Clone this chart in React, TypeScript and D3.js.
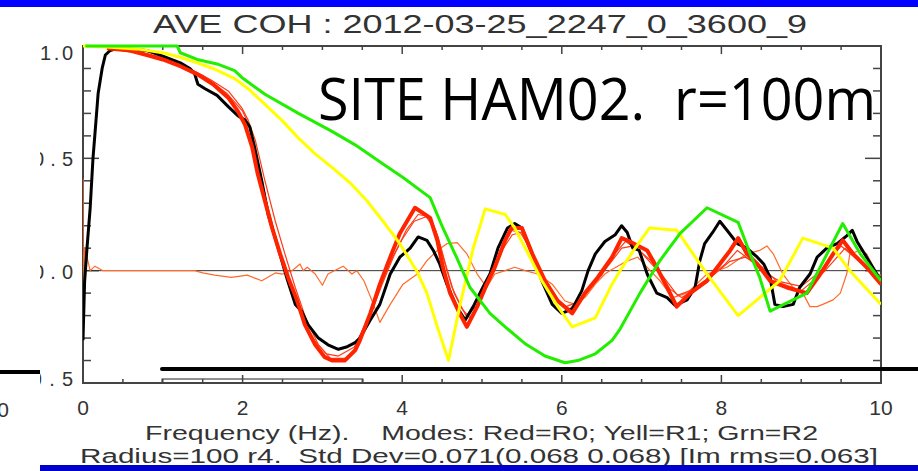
import React from "react";
import * as d3 from "d3";

type P = [number, number];

const xTicksMajor = [0, 2, 4, 6, 8, 10];
const yTickLabels = ["-0.5", "0.0", "0.5", "1.0"];
const yTickValues = [-0.5, 0.0, 0.5, 1.0];

const titleText = "AVE COH : 2012-03-25_2247_0_3600_9";
const siteText = "SITE HAM02.  r=100m";
const xLabelLine1 = "Frequency (Hz).    Modes: Red=R0; Yell=R1; Grn=R2";
const xLabelLine2 = "Radius=100 r4.  Std Dev=0.071(0.068 0.068) [Im rms=0.063]";

const blackData: P[] = [[0,-0.31],[0.02,-0.05],[0.05,0.10],[0.09,0.28],[0.125,0.50],[0.15,0.61],[0.19,0.79],[0.24,0.90],[0.28,0.96],[0.34,0.98],[0.43,0.99],[0.8,0.98],[1.0,0.955],[1.22,0.925],[1.34,0.90],[1.4,0.875],[1.44,0.83],[1.53,0.81],[1.68,0.78],[1.82,0.73],[1.94,0.69],[2.03,0.67],[2.09,0.64],[2.15,0.55],[2.24,0.40],[2.32,0.25],[2.43,0.12],[2.56,-0.04],[2.66,-0.15],[2.74,-0.18],[2.82,-0.24],[2.95,-0.30],[3.07,-0.33],[3.2,-0.35],[3.3,-0.34],[3.41,-0.32],[3.47,-0.30],[3.6,-0.22],[3.72,-0.15],[3.85,-0.015],[3.97,0.06],[4.1,0.10],[4.2,0.15],[4.31,0.135],[4.39,0.09],[4.47,0.03],[4.56,-0.06],[4.68,-0.16],[4.79,-0.22],[4.89,-0.16],[5.01,-0.075],[5.1,-0.015],[5.2,0.10],[5.32,0.19],[5.41,0.21],[5.5,0.19],[5.63,0.075],[5.75,-0.045],[5.88,-0.15],[6.0,-0.19],[6.13,-0.17],[6.25,-0.09],[6.33,0.0],[6.42,0.075],[6.54,0.13],[6.67,0.16],[6.75,0.20],[6.82,0.17],[6.89,0.10],[6.97,0.09],[7.07,-0.015],[7.19,-0.10],[7.32,-0.12],[7.42,-0.155],[7.57,-0.13],[7.67,-0.075],[7.73,0.045],[7.79,0.12],[7.89,0.17],[7.98,0.22],[8.07,0.18],[8.2,0.12],[8.32,0.10],[8.45,0.06],[8.53,0.03],[8.61,-0.03],[8.67,-0.15],[8.77,-0.16],[8.9,-0.15],[8.98,-0.075],[9.11,-0.015],[9.2,0.06],[9.32,0.10],[9.45,0.12],[9.57,0.155],[9.64,0.18],[9.7,0.13],[9.82,0.06],[10.0,-0.045]];

const redR0: P[] = [[0.3,0.99],[0.59,0.98],[0.8,0.96],[1.0,0.94],[1.22,0.91],[1.43,0.875],[1.63,0.83],[1.82,0.77],[1.94,0.71],[2.03,0.65],[2.12,0.55],[2.19,0.43],[2.28,0.31],[2.37,0.19],[2.47,0.075],[2.57,-0.03],[2.68,-0.13],[2.78,-0.24],[2.91,-0.33],[3.03,-0.385],[3.12,-0.40],[3.28,-0.40],[3.41,-0.355],[3.47,-0.31],[3.6,-0.19],[3.72,-0.06],[3.85,0.06],[3.97,0.165],[4.16,0.28],[4.35,0.235],[4.44,0.135],[4.51,0.015],[4.6,-0.10],[4.72,-0.19],[4.81,-0.25],[4.94,-0.16],[5.06,-0.06],[5.16,0.015],[5.29,0.135],[5.37,0.19],[5.5,0.19],[5.63,0.075],[5.79,-0.045],[5.95,-0.135],[6.13,-0.19],[6.29,-0.10],[6.45,-0.03],[6.63,0.06],[6.75,0.145],[6.85,0.13],[7.07,0.09],[7.19,0.015],[7.32,-0.075],[7.44,-0.16],[7.61,-0.10],[7.82,-0.045],[7.98,0.03],[8.11,0.09],[8.21,0.145],[8.32,0.075],[8.45,0.03],[8.61,-0.045],[8.82,-0.075],[9.07,-0.10],[9.24,-0.015],[9.4,0.075],[9.52,0.135],[9.65,0.075],[9.82,0.015],[10.0,-0.06]];

const redThinA: P[] = [[0.3,0.99],[0.8,0.965],[1.2,0.925],[1.6,0.85],[1.82,0.80],[1.99,0.725],[2.07,0.67],[2.16,0.58],[2.28,0.40],[2.41,0.22],[2.53,0.075],[2.66,-0.075],[2.8,-0.22],[2.95,-0.33],[3.1,-0.39],[3.3,-0.39],[3.45,-0.33],[3.6,-0.2],[3.75,-0.06],[3.9,0.07],[4.05,0.18],[4.2,0.25],[4.35,0.24],[4.45,0.15],[4.55,0.02],[4.65,-0.1],[4.8,-0.2],[4.95,-0.15],[5.1,-0.04],[5.25,0.1],[5.35,0.18],[5.5,0.17],[5.65,0.05],[5.8,-0.06],[5.95,-0.14],[6.1,-0.17],[6.3,-0.1],[6.5,-0.02],[6.65,0.07],[6.8,0.13],[7.0,0.08],[7.2,0.0],[7.35,-0.08],[7.5,-0.12],[7.7,-0.08],[7.9,-0.02],[8.1,0.04],[8.3,0.06],[8.5,0.02],[8.7,-0.05],[9.0,-0.09],[9.3,0.0],[9.55,0.1],[9.8,0.02],[10,-0.05]];

const redThinB: P[] = [[0.3,0.99],[1.0,0.95],[1.5,0.87],[1.8,0.79],[2.0,0.71],[2.1,0.63],[2.2,0.47],[2.32,0.28],[2.45,0.1],[2.6,-0.07],[2.75,-0.21],[2.9,-0.31],[3.05,-0.37],[3.2,-0.38],[3.4,-0.34],[3.55,-0.23],[3.7,-0.09],[3.85,0.04],[4.0,0.14],[4.15,0.22],[4.3,0.24],[4.42,0.18],[4.52,0.05],[4.62,-0.07],[4.75,-0.17],[4.85,-0.21],[5.0,-0.12],[5.12,-0.02],[5.25,0.09],[5.38,0.16],[5.48,0.17],[5.6,0.1],[5.75,-0.02],[5.9,-0.11],[6.05,-0.16],[6.2,-0.14],[6.4,-0.06],[6.6,0.03],[6.75,0.1],[6.9,0.11],[7.1,0.05],[7.3,-0.04],[7.45,-0.11],[7.6,-0.09],[7.85,-0.03],[8.05,0.03],[8.2,0.09],[8.35,0.05],[8.55,-0.01],[8.75,-0.05],[9.0,-0.07],[9.25,0.0],[9.5,0.11],[9.7,0.05],[10,-0.04]];

const yellowR1: P[] = [[0,1.0],[0.3,0.995],[0.71,0.985],[1.0,0.97],[1.22,0.95],[1.43,0.925],[1.63,0.90],[1.9,0.855],[2.07,0.81],[2.28,0.74],[2.49,0.67],[2.7,0.59],[2.91,0.52],[3.12,0.46],[3.35,0.39],[3.56,0.31],[3.76,0.22],[3.97,0.12],[4.18,0.0],[4.31,-0.10],[4.44,-0.25],[4.58,-0.40],[4.72,-0.16],[4.89,0.10],[5.04,0.275],[5.29,0.25],[5.41,0.19],[5.58,0.075],[5.75,-0.045],[5.95,-0.16],[6.13,-0.25],[6.42,-0.21],[6.63,-0.06],[6.73,0.0],[6.9,0.09],[7.1,0.19],[7.44,0.18],[7.82,-0.015],[8.21,-0.20],[8.48,-0.12],[8.73,-0.045],[9.02,0.145],[9.4,0.10],[9.61,0.0],[10.0,-0.15]];

const greenR2: P[] = [[0.03,1.0],[1.18,1.0],[1.22,0.97],[1.43,0.94],[1.68,0.92],[1.9,0.89],[1.99,0.86],[2.28,0.785],[2.7,0.70],[3.12,0.62],[3.41,0.56],[3.76,0.475],[4.01,0.415],[4.35,0.325],[4.51,0.19],[4.68,0.06],[4.85,-0.075],[5.1,-0.19],[5.29,-0.25],[5.54,-0.325],[5.79,-0.38],[6.04,-0.41],[6.2,-0.40],[6.42,-0.37],[6.63,-0.31],[6.73,-0.26],[6.98,-0.10],[7.23,0.045],[7.48,0.165],[7.82,0.28],[8.21,0.215],[8.36,0.075],[8.48,-0.03],[8.61,-0.18],[9.07,-0.10],[9.52,0.21],[9.74,0.075],[10.0,-0.045]];

const orangeIm: P[] = [[0,0.41],[0.005,-0.19],[0.02,0.1],[0.05,0.06],[0.09,0.0],[0.15,0.02],[0.2,0.01],[0.25,0.0],[1.4,0.0],[1.5,-0.01],[1.65,-0.02],[1.86,-0.03],[2.06,-0.02],[2.24,-0.045],[2.41,-0.01],[2.5,-0.015],[2.62,0.0],[2.72,0.03],[2.76,0.0],[2.81,0.015],[2.91,-0.015],[3.0,-0.065],[3.07,-0.015],[3.26,0.02],[3.37,-0.015],[3.43,0.0],[3.52,-0.045],[3.64,-0.15],[3.72,-0.23],[3.85,-0.15],[4.01,-0.06],[4.19,-0.015],[4.31,0.045],[4.44,0.09],[4.56,0.12],[4.69,0.125],[4.81,0.075],[4.94,-0.015],[5.06,-0.075],[5.16,-0.015],[5.29,0.0],[5.41,0.015],[5.54,0.0],[5.7,-0.015],[5.88,-0.06],[6.04,-0.135],[6.17,-0.15],[6.29,-0.12],[6.42,-0.06],[6.54,-0.015],[6.6,0.0],[6.8,0.04],[6.95,0.06],[7.07,0.015],[7.23,-0.045],[7.39,-0.12],[7.57,-0.10],[7.82,-0.015],[8.07,0.015],[8.32,0.075],[8.48,0.09],[8.57,0.11],[8.65,0.075],[8.77,-0.015],[8.9,-0.075],[9.02,-0.10],[9.11,-0.16],[9.2,-0.16],[9.27,-0.15],[9.4,-0.13],[9.49,-0.10],[9.57,-0.015],[9.61,0.075],[9.74,0.09],[9.82,0.075],[9.95,-0.015],[10,-0.02]];

const W = 918;
const H = 471;
const L = 83, R = 881, T = 46, B = 383;

export default function App() {
  const x = d3.scaleLinear().domain([0, 10]).range([L, R]);
  const y = d3.scaleLinear().domain([-0.5, 1.0]).range([B, T]);
  const line = d3.line<P>().x(d => x(d[0])).y(d => y(d[1]));

  const xMinor = d3.range(0, 10.01, 0.5);
  const yMinor = d3.range(-0.5, 1.001, 0.1);
  const axisCol = "#444";
  const txtCol = "#333";
  const mono = "'Liberation Sans', Arial, sans-serif";

  return (
    <div style={{ position: "absolute", left: 0, top: 0 }}>
      <svg width={W} height={H} style={{ display: "block", background: "#fff" }}>
        <defs>
          <clipPath id="ylab">
            <rect x={40} y={0} width={60} height={H} />
          </clipPath>
          <clipPath id="plot">
            <rect x={L} y={T - 2} width={R - L} height={B - T + 4} />
          </clipPath>
        </defs>

        {/* top blue band */}
        <rect x={0} y={0} width={W} height={7} fill="#0000ff" />

        {/* title */}
        <text x={153} y={33} fontFamily={mono} fontSize={25} fill={txtCol}
          textLength={654} lengthAdjust="spacingAndGlyphs">{titleText}</text>

        {/* overlay box below axis */}
        <rect x={162} y={379} width={201} height={4} fill="#fff" stroke="#222" strokeWidth={1} />

        {/* frame */}
        <rect x={L} y={T} width={R - L} height={B - T} fill="none" stroke={axisCol} strokeWidth={2} />

        {/* x ticks */}
        {xMinor.map((v, i) => {
          const major = Math.abs(v % 2) < 1e-6;
          const len = major ? 8 : 4;
          return (
            <g key={"xt" + i}>
              <line x1={x(v)} x2={x(v)} y1={B} y2={B - len} stroke={axisCol} strokeWidth={1.5} />
              <line x1={x(v)} x2={x(v)} y1={T} y2={T + len} stroke={axisCol} strokeWidth={1.5} />
            </g>
          );
        })}
        {/* y ticks */}
        {yMinor.map((v, i) => {
          const major = Math.abs(Math.round(v * 10) % 5) === 0;
          const len = major ? 16 : 8;
          return (
            <g key={"yt" + i}>
              <line x1={L} x2={L + len} y1={y(v)} y2={y(v)} stroke={axisCol} strokeWidth={1.5} />
              <line x1={R} x2={R - len} y1={y(v)} y2={y(v)} stroke={axisCol} strokeWidth={1.5} />
            </g>
          );
        })}

        {/* zero line */}
        <line x1={L} x2={R} y1={y(0)} y2={y(0)} stroke="#333" strokeWidth={1} />

        {/* curves */}
        <g clipPath="url(#plot)" fill="none" strokeLinejoin="round">
          <path d={line(orangeIm) || ""} stroke="#ff6a2a" strokeWidth={1.2} />
          <path d={line(redThinA) || ""} stroke="#ff3a1a" strokeWidth={1.2} />
          <path d={line(redThinB) || ""} stroke="#ff3a1a" strokeWidth={1.2} />
          <path d={line(blackData) || ""} stroke="#000" strokeWidth={3} />
          <path d={line(redR0) || ""} stroke="#ff2400" strokeWidth={4} />
          <path d={line(yellowR1) || ""} stroke="#ffff00" strokeWidth={3} />
          <path d={line(greenR2) || ""} stroke="#22ee00" strokeWidth={3} />
        </g>

        {/* y labels (left part hidden by the slide crop) */}
        <g clipPath="url(#ylab)">
          {yTickValues.map((v, i) => {
            const lab = yTickLabels[i];
            const narrowLead = lab.startsWith("1");
            const tl = lab.length === 4 ? 56 : narrowLead ? 33 : 40;
            return (
              <text key={"yl" + i} x={73 - tl} y={Math.min(Math.max(y(v) + 1, 53), 379)} dy="0.35em"
                fontFamily={mono} fontSize={20} fill={txtCol}
                textLength={tl} lengthAdjust="spacing">{lab}</text>
            );
          })}
        </g>

        {/* x labels */}
        {xTicksMajor.map((v) => (
          <text key={"xl" + v} x={x(v)} y={415} textAnchor="middle" fontFamily={mono} fontSize={21} fill={txtCol}>{String(v)}</text>
        ))}

        {/* axis titles */}
        <text x={145} y={440} fontFamily={mono} fontSize={20} fill={txtCol} textLength={673}
          lengthAdjust="spacingAndGlyphs" style={{ whiteSpace: "pre" }}>{xLabelLine1}</text>
        <text x={80} y={463} fontFamily={mono} fontSize={20} fill={txtCol} textLength={798}
          lengthAdjust="spacingAndGlyphs" style={{ whiteSpace: "pre" }}>{xLabelLine2}</text>

        {/* slide overlays */}
        <text x={318} y={120} fontFamily="'Open Sans', 'Noto Sans', sans-serif" fontSize={58} fill="#000"
          textLength={558} lengthAdjust="spacingAndGlyphs" style={{ whiteSpace: "pre" }}>{siteText}</text>
        <line x1={162} x2={W} y1={369} y2={369} stroke="#000" strokeWidth={4} strokeLinecap="round" />
        <line x1={0} x2={40} y1={372} y2={372} stroke="#000" strokeWidth={4} />
        <text x={9} y={417} textAnchor="end" fontFamily={mono} fontSize={21} fill={txtCol}>0</text>

        {/* bottom band */}
        <rect x={40} y={465} width={W - 40} height={6} fill="#0000cc" />
      </svg>
    </div>
  );
}
